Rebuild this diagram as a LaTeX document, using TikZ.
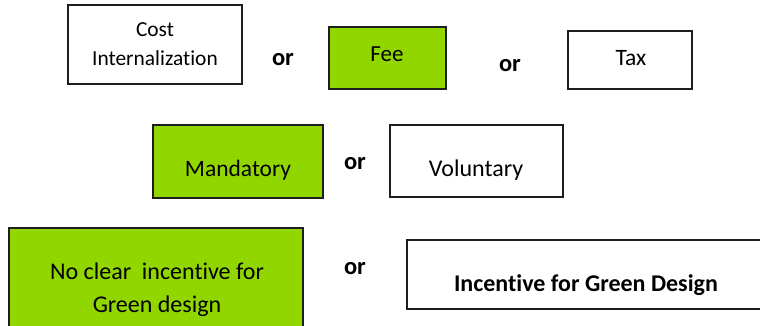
\documentclass[tikz,border=0pt]{standalone}
\usepackage{fontspec}
\setmainfont[Ligatures=NoCommon]{Carlito}
\definecolor{boxgreen}{RGB}{146,214,0}
\definecolor{boxline}{RGB}{30,30,30}
\begin{document}
\begin{tikzpicture}[x=1pt,y=-1pt,
  box/.style={draw=boxline,line width=1.3pt},
  greenbox/.style={box,fill=boxgreen},
  txt/.style={anchor=base,inner sep=0pt,font=\fontsize{23.5}{28}\selectfont},
  smalltxt/.style={txt,font=\fontsize{21.4}{26}\selectfont},
  ortxt/.style={txt,font=\fontsize{24.5}{28}\selectfont\bfseries}]
\useasboundingbox (0,0) rectangle (760,326);
% boxes
\draw[box] (68,5) rectangle (242,84) node[midway] (cost) {};
\draw[greenbox] (329,27) rectangle (446,89) node[midway] (fee) {};
\draw[box] (568,31) rectangle (692,89) node[midway] (tax) {};
\draw[greenbox] (153,125) rectangle (323,198) node[midway] (mand) {};
\draw[box] (390,125) rectangle (563,197) node[midway] (vol) {};
\draw[greenbox] (9,228) rectangle (303,332) node[midway] (noclear) {};
\draw[box] (407,240) rectangle (768,309) node[midway] (inc) {};
% texts
\node[smalltxt] (t1a) at (155,37) {Cost};
\node[smalltxt] (t1b) at (155,66) {Internalization};
\node[txt,font=\fontsize{23}{28}\selectfont] (t2) at (387,62) {Fee};
\node[txt] (t3) at (631,66) {Tax};
\node[txt] (t4) at (238,176) {Mandatory};
\node[txt,font=\fontsize{24}{28}\selectfont] (t5) at (476,176) {Voluntary};
\node[txt,font=\fontsize{24}{28}\selectfont] (t6a) at (157,279) {No clear\ \ incentive for};
\node[txt,font=\fontsize{24}{28}\selectfont] (t6b) at (157,312) {Green design};
\node[txt,font=\fontsize{24}{28}\selectfont\bfseries] (t7) at (586,291) {Incentive for Green Design};
% or
\node[ortxt] (or1) at (283,66) {or};
\node[ortxt] (or2) at (510,72) {or};
\node[ortxt] (or3) at (355,169) {or};
\node[ortxt] (or4) at (355,274) {or};
\end{tikzpicture}
\end{document}
